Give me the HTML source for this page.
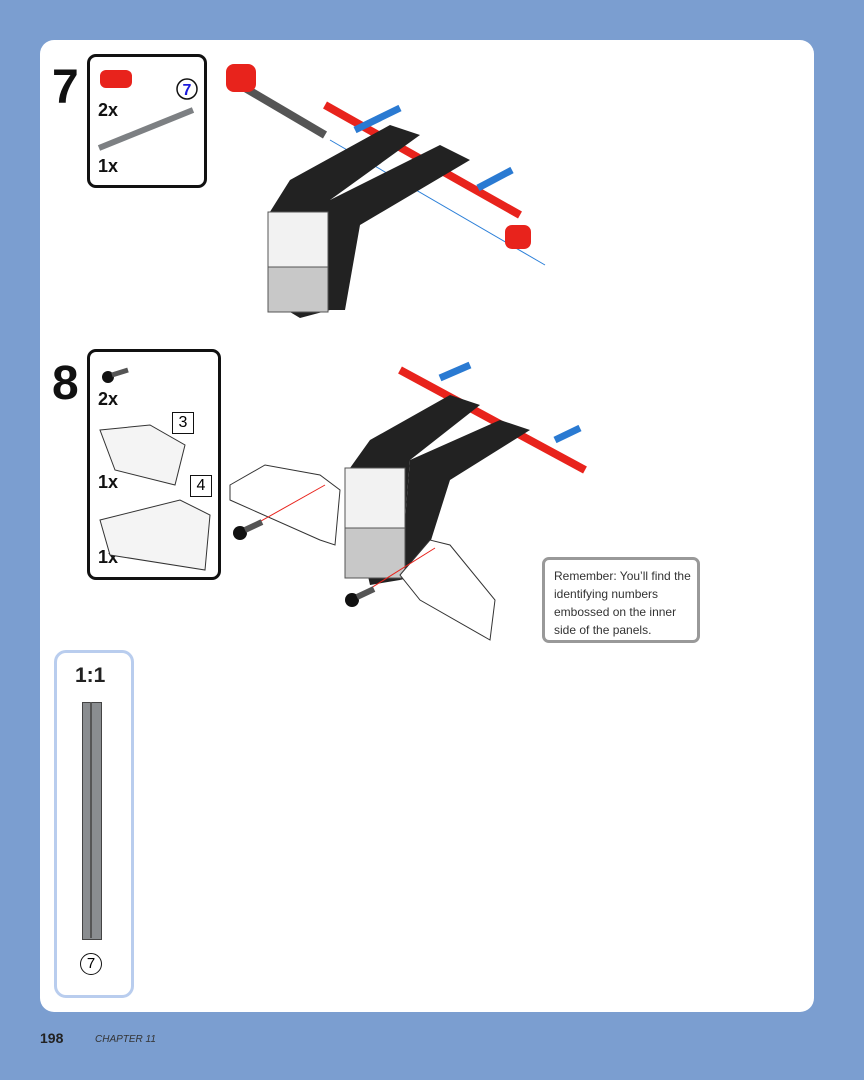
<!DOCTYPE html>
<html><head><style>
body{margin:0;width:864px;height:1080px;background:#7b9ed0;position:relative;overflow:hidden;font-family:"Liberation Sans",sans-serif}
.panel{position:absolute;left:40px;top:40px;width:774px;height:972px;background:#fff;border-radius:14px}
.box{position:absolute;border:3px solid #111;border-radius:9px;background:#fff}
.num{position:absolute;font-weight:bold;font-size:48px;color:#111}
.lbl{position:absolute;font-weight:bold;font-size:18px;color:#111}
</style></head><body>
<div class="panel"></div>
<div class="num" style="left:52px;top:60px">7</div>
<div class="box" style="left:87px;top:54px;width:114px;height:128px"></div>
<div class="lbl" style="left:98px;top:100px">2x</div>
<div class="lbl" style="left:98px;top:156px">1x</div>
<div class="num" style="left:52px;top:356px">8</div>
<div class="box" style="left:87px;top:349px;width:128px;height:225px"></div>
<div class="lbl" style="left:98px;top:389px">2x</div>
<div class="lbl" style="left:98px;top:472px">1x</div>
<div class="lbl" style="left:98px;top:547px">1x</div>
<div style="position:absolute;left:172px;top:412px;width:20px;height:20px;border:1.5px solid #111;font-size:16px;text-align:center;line-height:20px">3</div>
<div style="position:absolute;left:190px;top:475px;width:20px;height:20px;border:1.5px solid #111;font-size:16px;text-align:center;line-height:20px">4</div>
<div style="position:absolute;left:54px;top:650px;width:74px;height:342px;border:3px solid #b9cdee;border-radius:12px;background:#fff"></div>
<div style="position:absolute;left:75px;top:664px;font-size:21px;font-weight:bold;color:#222">1:1</div>
<div style="position:absolute;left:82px;top:702px;width:18px;height:236px;background:#8a8d90;border:1px solid #444"></div>
<div style="position:absolute;left:90px;top:702px;width:2px;height:236px;background:#555"></div>
<div style="position:absolute;left:80px;top:953px;width:20px;height:20px;border:1.5px solid #111;border-radius:50%;text-align:center;line-height:20px;font-size:15px">7</div>
<div style="position:absolute;left:542px;top:557px;width:143px;height:73px;border:3px solid #999;border-radius:7px;background:#fff;font-size:12px;line-height:18px;color:#333;padding:7px 0 0 9px">Remember: You’ll find the identifying numbers embossed on the inner side of the panels.</div>
<div style="position:absolute;left:40px;top:1030px;font-weight:bold;font-size:14px;color:#222">198</div>
<div style="position:absolute;left:95px;top:1034px;font-style:italic;font-size:10px;color:#333">CHAPTER 11</div>
<svg width="864" height="1080" style="position:absolute;left:0;top:0">
<rect x="100" y="70" width="32" height="18" rx="6" fill="#e8231c"/>
<circle cx="187" cy="89" r="10" fill="#fff" stroke="#111" stroke-width="1.5"/>
<text x="187" y="95" font-size="16" font-weight="bold" fill="#1a1adc" text-anchor="middle" font-family="Liberation Sans">7</text>
<line x1="99" y1="148" x2="193" y2="110" stroke="#7d8083" stroke-width="6"/>
<line x1="240" y1="85" x2="325" y2="135" stroke="#555" stroke-width="8"/>
<rect x="226" y="64" width="30" height="28" rx="8" fill="#e8231c"/>
<line x1="330" y1="140" x2="545" y2="265" stroke="#2b7fd8" stroke-width="1"/>
<line x1="325" y1="105" x2="520" y2="215" stroke="#e8231c" stroke-width="8"/>
<line x1="355" y1="130" x2="400" y2="108" stroke="#2a7ad2" stroke-width="7"/>
<line x1="478" y1="188" x2="512" y2="170" stroke="#2a7ad2" stroke-width="7"/>
<polygon points="268,215 290,180 390,125 420,135 330,200 330,310 300,318 270,300" fill="#222"/>
<polygon points="330,200 440,145 470,160 360,225 345,310 330,310" fill="#222"/>
<rect x="268" y="212" width="60" height="100" fill="#c8c8c8" stroke="#555"/>
<rect x="268" y="212" width="60" height="55" fill="#f2f2f2" stroke="#555"/>
<rect x="505" y="225" width="26" height="24" rx="7" fill="#e8231c"/>
<circle cx="108" cy="377" r="6" fill="#111"/><line x1="112" y1="375" x2="128" y2="370" stroke="#555" stroke-width="5"/>
<polygon points="100,430 150,425 185,445 175,485 115,470" fill="#f4f4f4" stroke="#333"/>
<polygon points="100,520 180,500 210,515 205,570 110,555" fill="#f4f4f4" stroke="#333"/>
<line x1="400" y1="370" x2="585" y2="470" stroke="#e8231c" stroke-width="8"/>
<line x1="440" y1="378" x2="470" y2="365" stroke="#2a7ad2" stroke-width="7"/>
<line x1="555" y1="440" x2="580" y2="428" stroke="#2a7ad2" stroke-width="7"/>
<polygon points="345,475 370,440 450,395 480,405 410,460 400,580 370,585" fill="#222"/>
<polygon points="410,460 500,420 530,430 450,480 420,575 400,580" fill="#222"/>
<rect x="345" y="468" width="60" height="110" fill="#c8c8c8" stroke="#555"/>
<rect x="345" y="468" width="60" height="60" fill="#f2f2f2" stroke="#555"/>
<polygon points="230,485 265,465 320,475 340,490 335,545 320,540 230,500" fill="#fff" stroke="#333"/>
<polygon points="400,575 430,540 450,545 495,600 490,640 420,600" fill="#fff" stroke="#333"/>
<line x1="245" y1="530" x2="325" y2="485" stroke="#e8231c" stroke-width="1"/>
<line x1="355" y1="598" x2="435" y2="548" stroke="#e8231c" stroke-width="1"/>
<circle cx="240" cy="533" r="7" fill="#111"/><line x1="245" y1="530" x2="262" y2="522" stroke="#555" stroke-width="6"/>
<circle cx="352" cy="600" r="7" fill="#111"/><line x1="357" y1="597" x2="374" y2="589" stroke="#555" stroke-width="6"/>
</svg>
</body></html>
